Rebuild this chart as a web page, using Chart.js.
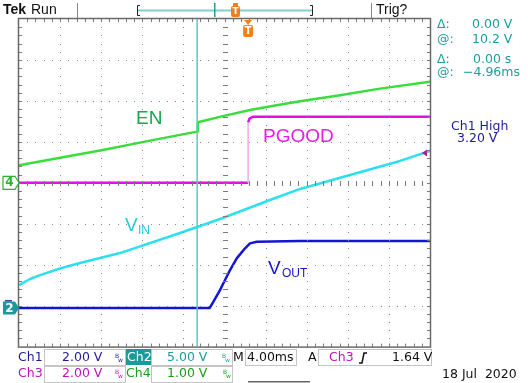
<!DOCTYPE html>
<html><head><meta charset="utf-8">
<script src="https://cdn.jsdelivr.net/npm/chart.js@4.4.0/dist/chart.umd.min.js"></script>
<style>html,body{margin:0;padding:0;background:#fff;overflow:hidden}canvas{display:block}</style>
</head><body>
<canvas id="c" width="528" height="383"></canvas>
<script>
// ---- data (time in ms, values in volts) ----
const enTime   = [-22.3,-18.3,-14.4,-9.55,-4.97,-4.9,-2.25,0.19,2.62,5.05,8.94,12.83,17.7];
const enVolts  = [0.43,0.61,0.79,1.03,1.25,1.48,1.64,1.78,1.89,1.99,2.14,2.30,2.47];
const vinTime  = [-22.3,-21.24,-20.25,-18.31,-16.36,-14.41,-12.47,-6.63,-2.73,2.13,5.05,9.92,14.78,17.7];
const vinVolts = [2.81,3.55,4.03,4.83,5.50,6.11,6.72,9.17,10.88,13.2,14.55,16.26,17.97,19.2];
const pgTime   = [-22.3,0.0,0.0,0.15,0.45,17.7];
const pgVolts  = [0,0,2.95,3.15,3.22,3.22];
const voutTime = [-22.3,-3.75,-3.39,-2.74,-2.25,-1.76,-1.11,-0.30,0.18,0.84,5.05,17.7];
const voutVolts= [0,0,0.31,0.88,1.37,1.86,2.43,2.92,3.16,3.24,3.28,3.28];
// channel settings: volts per division and ground offset (divisions)
const chVdiv = {1:2, 2:5, 3:2, 4:1};
const chOff  = {1:-3.06, 2:-3.06, 3:0, 4:0};
const timeMin = -22.3, timeMax = 17.7;   // 4 ms/div, 10 div
const cursorTime = -4.96;
const trigTime = 0;
const trigMarkDiv = 0.73;

function toDiv(ch, t, v){ return t.map((x,i)=>({x:x, y:v[i]/chVdiv[ch]+chOff[ch]})); }

const C_EN='#3ade3a', C_PG='#e010e0', C_VIN='#2ce0ee', C_VOUT='#1414d6';

const deco = {
  id:'deco',
  afterDatasetsDraw(chart){
    const ctx=chart.ctx, a=chart.chartArea, xs=chart.scales.x, ys=chart.scales.y;
    ctx.save();
    const xp = d => xs.getPixelForValue(timeMin + d*4);
    const yp = d => ys.getPixelForValue(d);
    // dotted graticule
    ctx.fillStyle='#8a8a8a';
    for(let k=1;k<10;k++){
      const x=Math.round(xp(k));
      for(let m=1;m<40;m++){ ctx.fillRect(x, Math.round(yp(-4+m*0.2)),1,1); }
    }
    for(let k=-3;k<=3;k++){
      const y=Math.round(yp(k));
      for(let m=1;m<50;m++){ ctx.fillRect(Math.round(xp(m*0.2)), y,1,1); }
    }
    // center ticks
    ctx.fillStyle='#7a7a7a';
    const cx=Math.round(xp(5)), cy=Math.round(yp(0));
    for(let m=1;m<40;m++){ ctx.fillRect(cx-2, Math.round(yp(-4+m*0.2)),5,1); }
    for(let m=1;m<50;m++){ ctx.fillRect(Math.round(xp(m*0.2)), cy-2,1,5); }
    // border ticks
    for(let m=1;m<50;m++){ const x=Math.round(xp(m*0.2)); ctx.fillRect(x,a.top,1,3); ctx.fillRect(x,a.bottom-3,1,3); }
    for(let m=1;m<40;m++){ const y=Math.round(yp(-4+m*0.2)); ctx.fillRect(a.left,y,3,1); ctx.fillRect(a.right-3,y,3,1); }
    // frame
    ctx.strokeStyle='#6a6a6a'; ctx.lineWidth=1.5;
    ctx.strokeRect(a.left-0.5,a.top-0.5,a.right-a.left+1,a.bottom-a.top+1);
    // cursor
    const cxp=xs.getPixelForValue(cursorTime);
    ctx.strokeStyle='#5cc8c8'; ctx.lineWidth=1.5;
    ctx.beginPath(); ctx.moveTo(cxp,a.top); ctx.lineTo(cxp,a.bottom); ctx.stroke();
    // trigger T marker under top frame
    const tx=xs.getPixelForValue(trigTime);
    ctx.fillStyle='#f0801e';
    ctx.beginPath(); ctx.moveTo(tx-4,a.top+1); ctx.lineTo(tx+4,a.top+1); ctx.lineTo(tx,a.top+6); ctx.closePath(); ctx.fill();
    ctx.beginPath(); ctx.roundRect(tx-5,a.top+6,10,12,2); ctx.fill();
    ctx.fillStyle='#fff'; ctx.font='bold 10px "DejaVu Sans"'; ctx.textAlign='center'; ctx.textBaseline='middle';
    ctx.fillText('T',tx,a.top+12.5);
    // trigger level marker on right
    const ty=yp(trigMarkDiv);
    ctx.fillStyle='#a020a0';
    ctx.beginPath(); ctx.moveTo(a.right-8,ty); ctx.lineTo(a.right-3,ty-3.5); ctx.lineTo(a.right-3,ty+3.5); ctx.closePath(); ctx.fill();
    // trace labels
    ctx.textAlign='left'; ctx.textBaseline='alphabetic';
    ctx.font='19px "Liberation Sans"';
    ctx.fillStyle='#17a84a'; ctx.fillText('EN',136,124);
    ctx.fillStyle='#e81ee8'; ctx.fillText('PGOOD',263,142);
    ctx.fillStyle='#22ccdd'; ctx.fillText('V',125,231);
    ctx.font='12px "Liberation Sans"'; ctx.fillText('IN',138,234);
    ctx.fillStyle='#1414d0'; ctx.font='19px "Liberation Sans"'; ctx.fillText('V',268,274);
    ctx.font='12px "Liberation Sans"'; ctx.fillText('OUT',282,277);
    ctx.restore();

    // ---- outside annotations ----
    ctx.save();
    const y4=yp(chOff[4]), y2=yp(chOff[2]);
    ctx.fillStyle='#fff'; ctx.strokeStyle='#2cb52c'; ctx.lineWidth=1.2;
    ctx.beginPath(); ctx.moveTo(3,y4-6.5); ctx.lineTo(15,y4-6.5); ctx.lineTo(19,y4); ctx.lineTo(15,y4+6.5); ctx.lineTo(3,y4+6.5); ctx.closePath(); ctx.fill(); ctx.stroke();
    ctx.fillStyle='#2cb52c'; ctx.font='bold 12px "DejaVu Sans"'; ctx.textAlign='center'; ctx.textBaseline='middle';
    ctx.fillText('4',9.5,y4+0.5);
    ctx.fillStyle='#3a2a9a'; ctx.fillRect(5,y2-8,7,1.5);
    ctx.fillStyle='#1a9a9a';
    ctx.beginPath(); ctx.moveTo(3,y2-6.5); ctx.lineTo(15,y2-6.5); ctx.lineTo(19,y2); ctx.lineTo(15,y2+6.5); ctx.lineTo(3,y2+6.5); ctx.closePath(); ctx.fill();
    ctx.fillStyle='#fff'; ctx.fillText('2',9.5,y2+0.5);

    // top bar
    ctx.textAlign='left'; ctx.textBaseline='middle';
    ctx.fillStyle='#111'; ctx.font='bold 14px "Liberation Sans"'; ctx.fillText('Tek',3,10);
    ctx.font='14px "Liberation Sans"'; ctx.fillText('Run',31,10);
    ctx.fillText('Trig?',376,10);
    ctx.fillStyle='#888'; ctx.fillRect(77,3,1,15); ctx.fillRect(371,3,1,15);
    ctx.fillStyle='#7fd0d0'; ctx.fillRect(138,9.5,174,2);
    ctx.strokeStyle='#222'; ctx.lineWidth=1;
    ctx.beginPath(); ctx.moveTo(140,5.5); ctx.lineTo(137.5,5.5); ctx.lineTo(137.5,15.5); ctx.lineTo(140,15.5); ctx.stroke();
    ctx.beginPath(); ctx.moveTo(310,5.5); ctx.lineTo(312.5,5.5); ctx.lineTo(312.5,15.5); ctx.lineTo(310,15.5); ctx.stroke();
    ctx.fillStyle='#2a9a9a'; ctx.fillRect(214,3,1.5,14);
    ctx.fillStyle='#f0801e';
    ctx.fillRect(233,3,5,3); ctx.beginPath(); ctx.roundRect(231,6,9,11,2); ctx.fill();
    ctx.fillStyle='#fff'; ctx.font='bold 9px "DejaVu Sans"'; ctx.textAlign='center'; ctx.fillText('T',235.5,11.5);

    // right readouts
    ctx.textAlign='left'; ctx.font='12.5px "DejaVu Sans"'; ctx.fillStyle='#1a9e9e';
    ctx.fillText('\u0394:',437,25); ctx.fillText('0.00 V',472,25);
    ctx.fillText('@:',437,40); ctx.fillText('10.2 V',472,40);
    ctx.fillText('\u0394:',437,60); ctx.fillText('0.00 s',473,60);
    ctx.fillText('@:',437,73); ctx.fillText('\u22124.96ms',463,73);
    ctx.fillStyle='#1c1c9c'; ctx.fillText('Ch1 High',451,127); ctx.fillText('3.20 V',457,139);

    // bottom readouts
    ctx.strokeStyle='#c4c4c4'; ctx.lineWidth=1;
    ctx.strokeRect(44.5,349.5,81,16); ctx.strokeRect(151.5,349.5,81,16); ctx.strokeRect(245.5,349.5,51,16); ctx.strokeRect(318.5,349.5,113,16);
    ctx.strokeRect(44.5,366.5,81,16); ctx.strokeRect(151.5,366.5,81,16);
    ctx.fillStyle='#1a9a9a'; ctx.fillRect(126,349,25,16);
    const r1=358, r2=374;
    ctx.font='12.5px "DejaVu Sans"';
    ctx.fillStyle='#1c1c9c'; ctx.fillText('Ch1',18,r1); ctx.fillText('2.00 V',62,r1);
    ctx.fillStyle='#fff'; ctx.fillText('Ch2',127,r1);
    ctx.fillStyle='#1a9e9e'; ctx.fillText('5.00 V',167,r1);
    ctx.fillStyle='#111'; ctx.fillText('M',233,r1); ctx.fillText('4.00ms',247,r1); ctx.fillText('A',308,r1);
    ctx.fillStyle='#c010c0'; ctx.fillText('Ch3',329,r1);
    ctx.fillStyle='#111'; ctx.fillText('1.64 V',392,r1);
    ctx.fillStyle='#c010c0'; ctx.fillText('Ch3',18,r2); ctx.fillText('2.00 V',62,r2);
    ctx.fillStyle='#18a018'; ctx.fillText('Ch4',126,r2); ctx.fillText('1.00 V',167,r2);
    ctx.fillStyle='#111'; ctx.fillText('18 Jul  2020',442,375);
    ctx.strokeStyle='#111'; ctx.lineWidth=1.5;
    ctx.beginPath(); ctx.moveTo(359,363); ctx.lineTo(362,363); ctx.lineTo(364,353); ctx.lineTo(367,353); ctx.stroke();
    ctx.font='6px "DejaVu Sans"';
    const bw=(x,y,c)=>{ctx.fillStyle=c; ctx.fillText('B',x,y-2); ctx.fillText('w',x+3,y+2);};
    bw(115,r1,'#1c1c9c'); bw(222,r1,'#1a9e9e'); bw(115,r2,'#c010c0'); bw(223,r2,'#18a018');
    ctx.fillStyle='#666'; ctx.fillRect(248,381,62,1.5);
    ctx.restore();
  }
};

new Chart(document.getElementById('c'),{
  type:'line',
  data:{datasets:[
    {label:'EN',data:toDiv(4,enTime,enVolts),borderColor:C_EN,borderWidth:2.5},
    {label:'VIN',data:toDiv(2,vinTime,vinVolts),borderColor:C_VIN,borderWidth:2.5},
    {label:'PGOOD',data:toDiv(3,pgTime,pgVolts),borderColor:C_PG,borderWidth:2.5,
      segment:{borderColor:c=>c.p0.parsed.x===c.p1.parsed.x?'#f4a8f4':undefined,borderWidth:c=>c.p0.parsed.x===c.p1.parsed.x?1.5:undefined}},
    {label:'VOUT',data:toDiv(1,voutTime,voutVolts),borderColor:C_VOUT,borderWidth:2.5}
  ]},
  options:{
    responsive:false, animation:false, devicePixelRatio:1,
    layout:{padding:{left:19,top:19,right:98,bottom:36.4}},
    elements:{point:{radius:0},line:{tension:0,borderJoinStyle:'round',borderCapStyle:'butt'}},
    plugins:{legend:{display:false},tooltip:{enabled:false}},
    scales:{
      x:{type:'linear',min:timeMin,max:timeMax,display:false},
      y:{type:'linear',min:-4,max:4,display:false}
    }
  },
  plugins:[deco]
});
</script>
</body></html>
